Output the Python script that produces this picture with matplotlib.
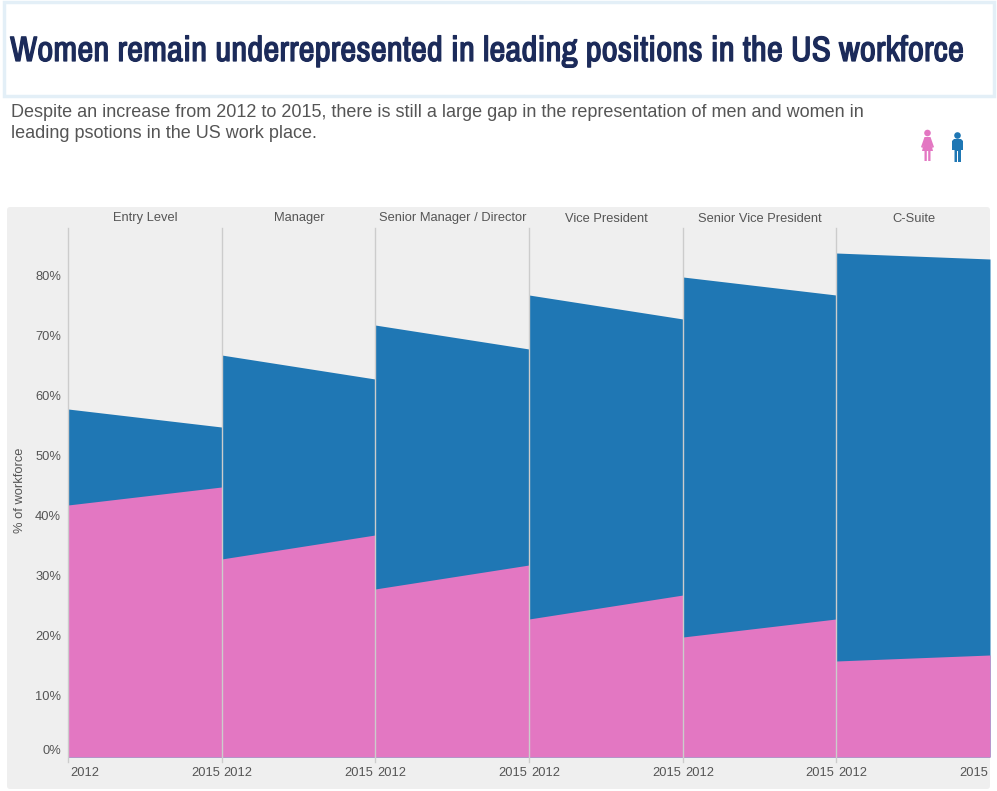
import logging

import matplotlib
matplotlib.use("Agg")
import matplotlib.patheffects as pe
import matplotlib.pyplot as plt
from matplotlib.patches import Circle, FancyBboxPatch, Polygon, Rectangle

logging.getLogger("matplotlib.font_manager").setLevel(logging.ERROR)

levels = ["Entry Level", "Manager", "Senior Manager / Director", "Vice President",
          "Senior Vice President", "C-Suite"]
years = [2012, 2015]
women = [[42, 45], [33, 37], [28, 32], [23, 27], [20, 23], [16, 17]]
men = [[58, 55], [67, 63], [72, 68], [77, 73], [80, 77], [84, 83]]
y_ticks = [0, 10, 20, 30, 40, 50, 60, 70, 80]

PINK = "#e377c2"
BLUE = "#1f77b4"
GREY = "#efefef"
TEXT = "#555555"
NAVY = "#1c2b5a"
W, H = 997, 791
panel_edges = [68, 221.5, 375, 529, 683, 836, 990]
TOP, BOTTOM = 227.5, 757
TITLE_WIDTH = 955

plt.rcParams["font.family"] = ["Liberation Sans", "DejaVu Sans"]


def fig_box(x0, y_top, x1, y_bottom):
    # pixel box from the top left -> figure fraction
    return [x0 / W, 1 - y_bottom / H, (x1 - x0) / W, (y_bottom - y_top) / H]


fig = plt.figure(figsize=(W / 100, H / 100), dpi=100)

# background layer in pixel coordinates
bg = fig.add_axes([0, 0, 1, 1], zorder=0)
bg.set_xlim(0, W)
bg.set_ylim(H, 0)
bg.axis("off")
bg.add_patch(Rectangle((3.5, 1.5), 990.5, 94.5, fc="white", ec="#e3eff7", lw=2.5))
bg.add_patch(FancyBboxPatch((9, 209), 979, 578, boxstyle="round,pad=2,rounding_size=3",
                            fc=GREY, ec="none"))

title = bg.text(10, 61, "Women remain underrepresented in leading positions in the US workforce",
                fontsize=24, fontweight="bold", color=NAVY, va="baseline",
                family=["Archivo Narrow", "Roboto Condensed", "Liberation Sans"])
# narrow font may differ, so size the title to the width it has in the reference
fig.canvas.draw()
title.set_fontsize(24 * TITLE_WIDTH / title.get_window_extent().width)
# the narrow font comes out regular weight, thicken it
title.set_path_effects([pe.withStroke(linewidth=0.9, foreground=NAVY)])

bg.text(10.5, 117, "Despite an increase from 2012 to 2015, there is still a large gap in the "
        "representation of men and women in", fontsize=12.95, color=TEXT, va="baseline")
bg.text(10.5, 138, "leading psotions in the US work place.", fontsize=12.95, color=TEXT, va="baseline")

# woman icon
bg.add_patch(Circle((927.5, 133), 3.3, fc=PINK, ec="none"))
bg.add_patch(Polygon([(924.5, 137), (930.5, 137), (934, 147), (932.5, 148), (931.5, 145),
                      (933, 151), (930.5, 151), (930.5, 161), (928.2, 161), (928.2, 151),
                      (926.8, 151), (926.8, 161), (924.5, 161), (924.5, 151), (922, 151),
                      (923.5, 145), (922.5, 148), (921, 147)], fc=PINK, ec="none"))
# man icon
bg.add_patch(Circle((957.5, 135.5), 3.3, fc=BLUE, ec="none"))
bg.add_patch(Polygon([(954, 139), (961, 139), (963, 141), (963, 150), (961, 150), (961, 162),
                      (958, 162), (958, 151), (957, 151), (957, 162), (954.5, 162),
                      (954.5, 150), (952, 150), (952, 141)], fc=BLUE, ec="none"))

y_max = (BOTTOM - TOP) / 6.0

for i, level in enumerate(levels):
    ax = fig.add_axes(fig_box(panel_edges[i], TOP, panel_edges[i + 1], BOTTOM), zorder=1)
    ax.patch.set_alpha(0)
    ax.fill_between(years, men[i], color=BLUE, lw=0)
    ax.fill_between(years, women[i], color=PINK, lw=0)
    ax.set_xlim(years)
    ax.set_ylim(0, y_max)
    ax.set_xticks([])
    ax.set_yticks([])
    for side in ["top", "right", "bottom"]:
        ax.spines[side].set_visible(False)
    ax.spines["left"].set_color("#cccccc")
    ax.spines["left"].set_linewidth(1)
    ax.spines["left"].set_bounds(-0.8, y_max)
    ax.spines["left"].set_zorder(5)

    # category on top, years below
    ax.text(0.505, 1.0 + 9 / 529.5, level, transform=ax.transAxes, ha="center", va="center",
            fontsize=9.3, color=TEXT)
    ax.text(0.015, -16.5 / 529.5, str(years[0]), transform=ax.transAxes, ha="left", va="center",
            fontsize=9.3, color=TEXT)
    ax.text(0.99, -16.5 / 529.5, str(years[1]), transform=ax.transAxes, ha="right", va="center",
            fontsize=9.3, color=TEXT)

    if i == 0:
        for t in y_ticks:
            # lowest label sits a bit above its value so it stays inside the band
            ax.text(-7 / 153.5, t + (1.0 if t == 0 else 0), f"{t}%",
                    transform=ax.get_yaxis_transform(), ha="right", va="center",
                    fontsize=9.3, color=TEXT)
        ax.text(-48 / 153.5, 44.4, "% of workforce", transform=ax.get_yaxis_transform(),
                rotation=90, ha="center", va="center", fontsize=9.3, color=TEXT)

fig.savefig("out.png", dpi=100)
plt.close(fig)
